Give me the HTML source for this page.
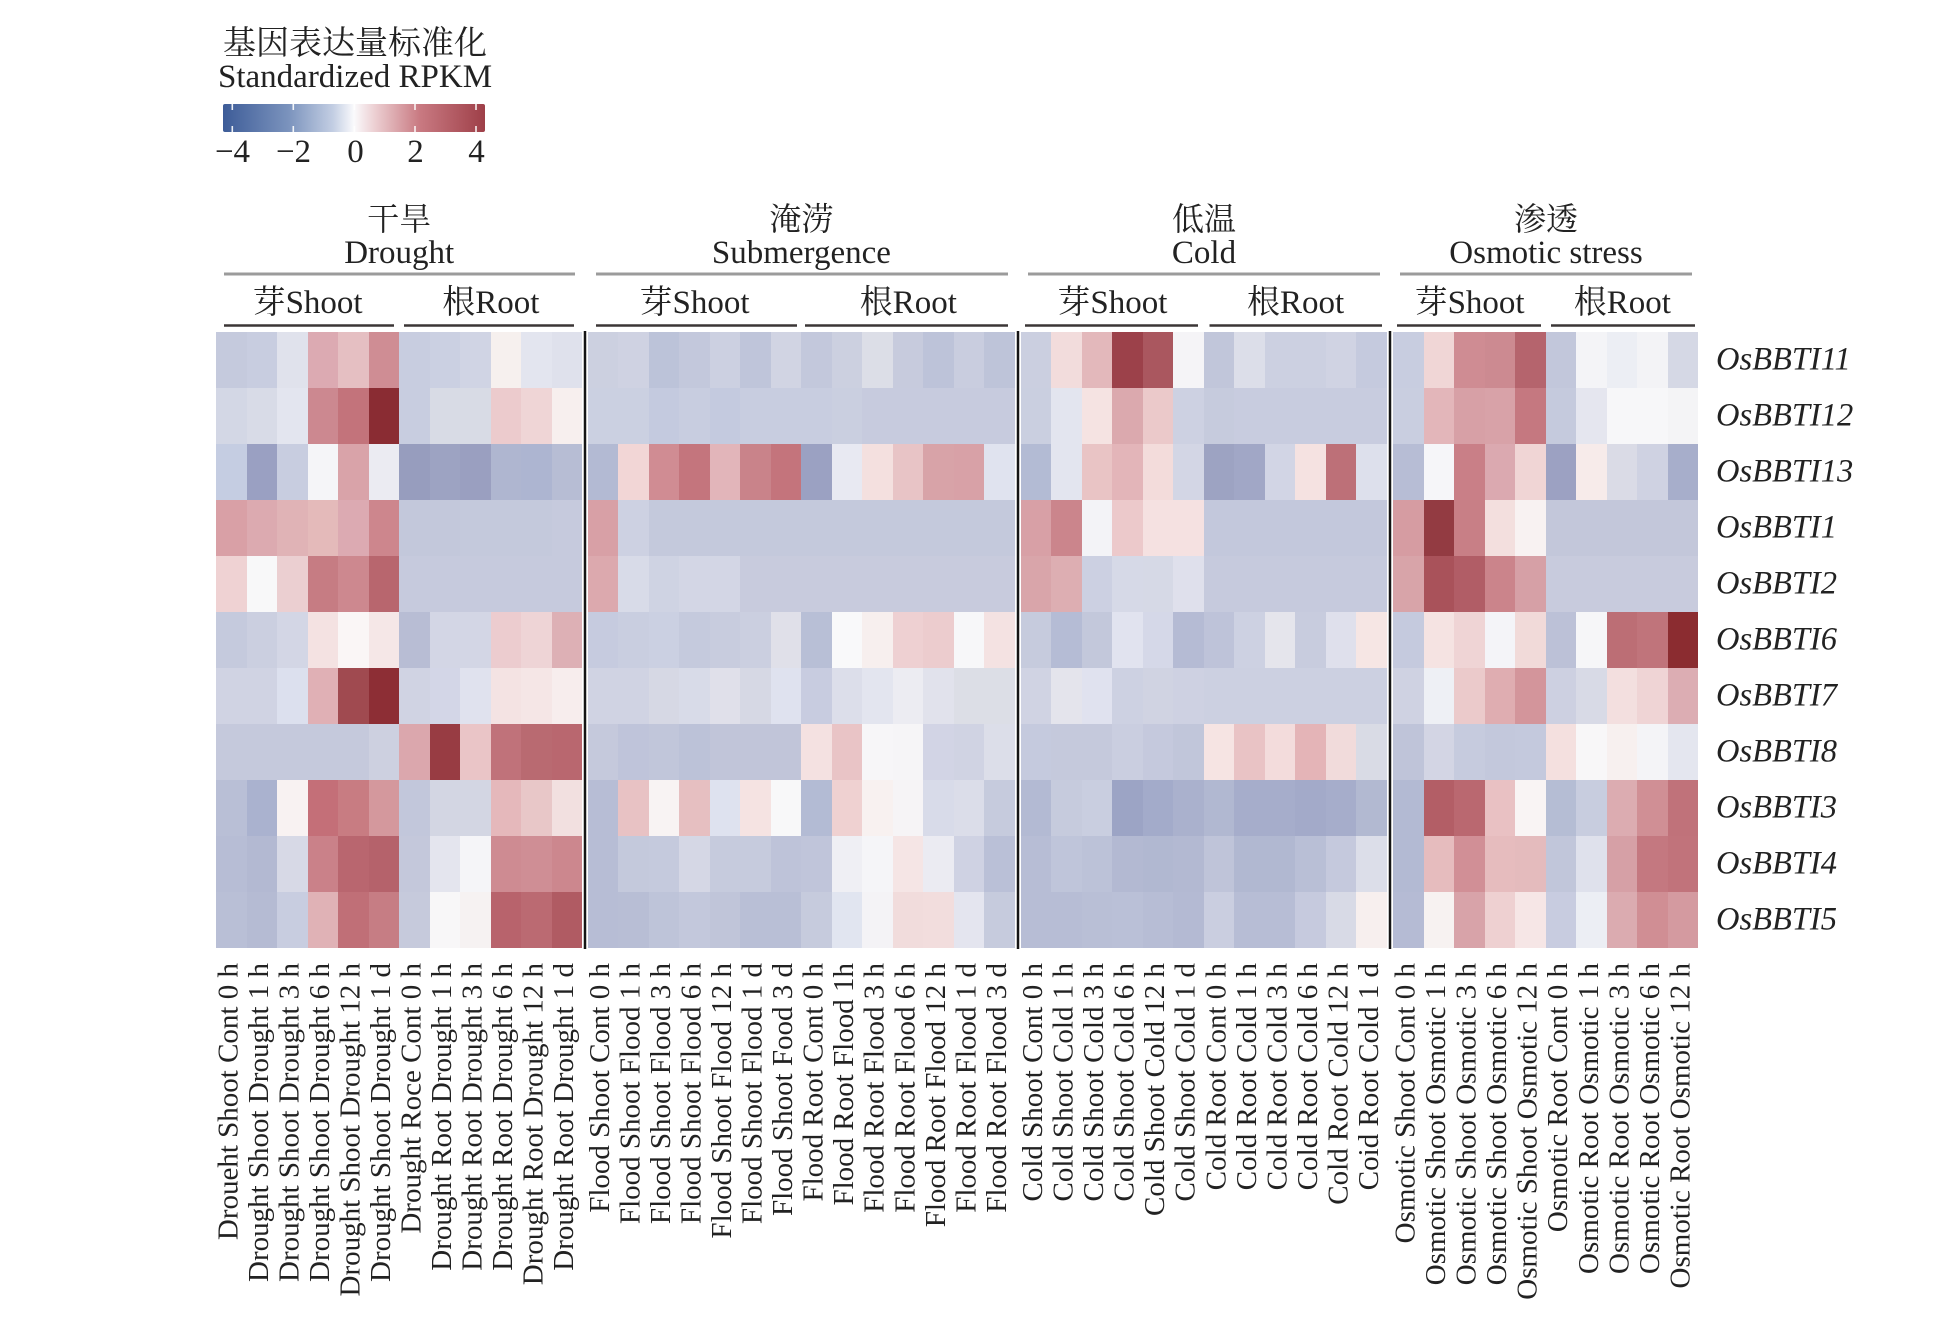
<!DOCTYPE html>
<html><head><meta charset="utf-8">
<style>
html,body{margin:0;padding:0;background:#fff;}
#wrap{position:relative;width:1946px;height:1321px;overflow:hidden;background:#fff;}
.g{position:absolute;top:331.7px;display:grid;grid-auto-rows:56px;}
.g i{display:block;}
#d{left:216px;grid-template-columns:repeat(12,30.53px);}
#f{left:587.7px;grid-template-columns:repeat(14,30.53px);}
#c{left:1020.8px;grid-template-columns:repeat(12,30.53px);}
#o{left:1393.3px;grid-template-columns:repeat(10,30.53px);}
svg{position:absolute;left:0;top:0;}
.t{font-family:"Liberation Serif","Noto Serif CJK SC",serif;fill:#222;}
.b{font-family:"Liberation Serif",serif;font-size:29px;fill:#222;}
</style></head><body><div id="wrap">

<div class="g" id="d">
<i style="background:#c5cadd"></i><i style="background:#c8cde0"></i><i style="background:#e0e2ec"></i><i style="background:#dcaab2"></i><i style="background:#e5bfc2"></i><i style="background:#cf8d94"></i><i style="background:#c8cde0"></i><i style="background:#cbd0e2"></i><i style="background:#d0d4e4"></i><i style="background:#f6f0ee"></i><i style="background:#e3e5ef"></i><i style="background:#dfe1ec"></i>
<i style="background:#d3d7e5"></i><i style="background:#d8dbe7"></i><i style="background:#e3e5ef"></i><i style="background:#cc8890"></i><i style="background:#c3737b"></i><i style="background:#8a2c33"></i><i style="background:#c8cde0"></i><i style="background:#d8dbe5"></i><i style="background:#d8dbe5"></i><i style="background:#eccbcd"></i><i style="background:#efd5d6"></i><i style="background:#f7efee"></i>
<i style="background:#c5cde2"></i><i style="background:#9aa0c2"></i><i style="background:#c8cde0"></i><i style="background:#f5f5f8"></i><i style="background:#d9a3a9"></i><i style="background:#ebebf2"></i><i style="background:#979dbe"></i><i style="background:#9da3c2"></i><i style="background:#9a9fc0"></i><i style="background:#afb6d0"></i><i style="background:#adb5d1"></i><i style="background:#b7bdd4"></i>
<i style="background:#d9a0a6"></i><i style="background:#dcaab0"></i><i style="background:#e0b3b6"></i><i style="background:#e4baba"></i><i style="background:#dcaab2"></i><i style="background:#cd868d"></i><i style="background:#c3c8db"></i><i style="background:#c3c8db"></i><i style="background:#c4c9dc"></i><i style="background:#c4c9dc"></i><i style="background:#c4c9dc"></i><i style="background:#c6cadd"></i>
<i style="background:#efd2d3"></i><i style="background:#f8f8f9"></i><i style="background:#ebcfd1"></i><i style="background:#c67c83"></i><i style="background:#cd888f"></i><i style="background:#b8666e"></i><i style="background:#c6cadd"></i><i style="background:#c6cadd"></i><i style="background:#c6cadd"></i><i style="background:#c6cadd"></i><i style="background:#c6cadd"></i><i style="background:#c6cadd"></i>
<i style="background:#c5cadd"></i><i style="background:#cbcfe0"></i><i style="background:#d3d6e5"></i><i style="background:#f4e2e2"></i><i style="background:#faf6f6"></i><i style="background:#f5e7e7"></i><i style="background:#b8bdd4"></i><i style="background:#d3d6e5"></i><i style="background:#d3d6e5"></i><i style="background:#eccccf"></i><i style="background:#eed4d6"></i><i style="background:#ddb0b5"></i>
<i style="background:#d0d3e3"></i><i style="background:#d0d3e3"></i><i style="background:#dce0ee"></i><i style="background:#e0b0b5"></i><i style="background:#a04a50"></i><i style="background:#8d2e35"></i><i style="background:#d0d3e3"></i><i style="background:#d3d6e7"></i><i style="background:#e0e2ee"></i><i style="background:#f4e3e3"></i><i style="background:#f5e6e6"></i><i style="background:#f7eded"></i>
<i style="background:#c5c9dc"></i><i style="background:#c5c9dc"></i><i style="background:#c5c9dc"></i><i style="background:#c5c9dc"></i><i style="background:#c5c9dc"></i><i style="background:#cdd0e0"></i><i style="background:#dba7ad"></i><i style="background:#983c43"></i><i style="background:#eac5c7"></i><i style="background:#c0727a"></i><i style="background:#b96a71"></i><i style="background:#b9676f"></i>
<i style="background:#b9bfd6"></i><i style="background:#aab2cf"></i><i style="background:#f8f2f2"></i><i style="background:#c46f78"></i><i style="background:#c87c82"></i><i style="background:#d4989d"></i><i style="background:#c2c7db"></i><i style="background:#d3d6e3"></i><i style="background:#d3d6e3"></i><i style="background:#e5b8bb"></i><i style="background:#e8c7c8"></i><i style="background:#f2e0e0"></i>
<i style="background:#b7bdd5"></i><i style="background:#b3b9d2"></i><i style="background:#d7d9e6"></i><i style="background:#ca8189"></i><i style="background:#b9666f"></i><i style="background:#b5626b"></i><i style="background:#c4c8db"></i><i style="background:#e4e5ee"></i><i style="background:#f5f5f8"></i><i style="background:#ce8b92"></i><i style="background:#cf8e95"></i><i style="background:#cc878e"></i>
<i style="background:#b9bfd6"></i><i style="background:#b5bbd3"></i><i style="background:#c8cde0"></i><i style="background:#e0b2b6"></i><i style="background:#c06f77"></i><i style="background:#c67d84"></i><i style="background:#c6cadc"></i><i style="background:#f8f7f8"></i><i style="background:#f6f2f2"></i><i style="background:#b8636c"></i><i style="background:#bb6a72"></i><i style="background:#b05b63"></i>
</div>

<div class="g" id="f">
<i style="background:#ccd0e0"></i><i style="background:#cfd2e2"></i><i style="background:#bcc3d9"></i><i style="background:#c3c8dc"></i><i style="background:#ccd0e1"></i><i style="background:#bfc5da"></i><i style="background:#d1d4e3"></i><i style="background:#c3c8dc"></i><i style="background:#ccd0e0"></i><i style="background:#dcdee7"></i><i style="background:#c7cbdd"></i><i style="background:#bdc3d9"></i><i style="background:#c9cddf"></i><i style="background:#bec4d9"></i>
<i style="background:#cbd0e1"></i><i style="background:#cbd0e1"></i><i style="background:#c4cadf"></i><i style="background:#c8cde0"></i><i style="background:#c4cadf"></i><i style="background:#c8cde0"></i><i style="background:#c8cde0"></i><i style="background:#c8cde0"></i><i style="background:#cacfe0"></i><i style="background:#c7cbde"></i><i style="background:#c7cbde"></i><i style="background:#c7cbde"></i><i style="background:#c7cbde"></i><i style="background:#c7cbde"></i>
<i style="background:#b3bad3"></i><i style="background:#f2d6d6"></i><i style="background:#d08c93"></i><i style="background:#c4757d"></i><i style="background:#e2b5ba"></i><i style="background:#c9838a"></i><i style="background:#c4747c"></i><i style="background:#9ba1c2"></i><i style="background:#e8e9f2"></i><i style="background:#f4e0df"></i><i style="background:#e8c4c6"></i><i style="background:#d8a3a8"></i><i style="background:#d8a1a7"></i><i style="background:#e0e3ef"></i>
<i style="background:#d8a0a6"></i><i style="background:#cdd1e2"></i><i style="background:#c4c9dc"></i><i style="background:#c4c9dc"></i><i style="background:#c4c9dc"></i><i style="background:#c4c9dc"></i><i style="background:#c4c9dc"></i><i style="background:#c4c9dc"></i><i style="background:#c4c9dc"></i><i style="background:#c4c9dc"></i><i style="background:#c4c9dc"></i><i style="background:#c4c9dc"></i><i style="background:#c4c9dc"></i><i style="background:#c4c9dc"></i>
<i style="background:#dca9ae"></i><i style="background:#d8dbe8"></i><i style="background:#cfd3e3"></i><i style="background:#d3d6e5"></i><i style="background:#d3d6e5"></i><i style="background:#c8cbdd"></i><i style="background:#c8cbdd"></i><i style="background:#c8cbdd"></i><i style="background:#c8cbdd"></i><i style="background:#c8cbdd"></i><i style="background:#c8cbdd"></i><i style="background:#c8cbdd"></i><i style="background:#c8cbdd"></i><i style="background:#c8cbdd"></i>
<i style="background:#c6cbdf"></i><i style="background:#c9cee0"></i><i style="background:#cbd0e2"></i><i style="background:#c5cadd"></i><i style="background:#c8ccde"></i><i style="background:#cbcfe0"></i><i style="background:#e0e0e9"></i><i style="background:#b8bfd6"></i><i style="background:#f9f9fa"></i><i style="background:#f7efee"></i><i style="background:#eed0d2"></i><i style="background:#ecccce"></i><i style="background:#f7f7f9"></i><i style="background:#f4e2e2"></i>
<i style="background:#d0d3e3"></i><i style="background:#d0d3e3"></i><i style="background:#d6d8e4"></i><i style="background:#d8dbe8"></i><i style="background:#e0e0ea"></i><i style="background:#d6d8e4"></i><i style="background:#dfe2ef"></i><i style="background:#c8cce0"></i><i style="background:#dcdeea"></i><i style="background:#e3e5ef"></i><i style="background:#ececf2"></i><i style="background:#e1e2ec"></i><i style="background:#dcdee6"></i><i style="background:#dcdee6"></i>
<i style="background:#c5c9dc"></i><i style="background:#bfc4da"></i><i style="background:#c1c6da"></i><i style="background:#bcc2d8"></i><i style="background:#c1c5d9"></i><i style="background:#c1c5d9"></i><i style="background:#c1c5d9"></i><i style="background:#f4e1e1"></i><i style="background:#e9c4c6"></i><i style="background:#f7f6f8"></i><i style="background:#f6f5f7"></i><i style="background:#d2d4e5"></i><i style="background:#d0d3e3"></i><i style="background:#dcdee9"></i>
<i style="background:#b7bdd5"></i><i style="background:#e8c2c4"></i><i style="background:#f8f3f3"></i><i style="background:#e6bfc1"></i><i style="background:#dee2ef"></i><i style="background:#f5e3e2"></i><i style="background:#f8f8f9"></i><i style="background:#b3bbd4"></i><i style="background:#efd1d1"></i><i style="background:#f8f1f0"></i><i style="background:#f6f4f6"></i><i style="background:#d8dbe9"></i><i style="background:#dbdde9"></i><i style="background:#c6cbdd"></i>
<i style="background:#b7bdd5"></i><i style="background:#c4c9dc"></i><i style="background:#c5cadd"></i><i style="background:#d5d7e5"></i><i style="background:#c6cbdd"></i><i style="background:#c6cbdd"></i><i style="background:#bec3d9"></i><i style="background:#c0c5da"></i><i style="background:#efeff4"></i><i style="background:#f5f5f8"></i><i style="background:#f5e5e5"></i><i style="background:#ebebf2"></i><i style="background:#cfd2e3"></i><i style="background:#bac0d7"></i>
<i style="background:#b7bdd5"></i><i style="background:#b8bed5"></i><i style="background:#bec4d9"></i><i style="background:#c3c8dc"></i><i style="background:#c0c5d9"></i><i style="background:#b9bfd6"></i><i style="background:#b9bfd6"></i><i style="background:#c6cbdd"></i><i style="background:#e1e5f0"></i><i style="background:#f4f3f6"></i><i style="background:#f1dcdc"></i><i style="background:#f2dddd"></i><i style="background:#e4e5ef"></i><i style="background:#c6cbdd"></i>
</div>

<div class="g" id="c">
<i style="background:#cbcfe0"></i><i style="background:#f2dcdc"></i><i style="background:#e3b8bb"></i><i style="background:#9c414a"></i><i style="background:#aa575f"></i><i style="background:#f5f4f7"></i><i style="background:#c1c6da"></i><i style="background:#dcdee9"></i><i style="background:#ccd0e1"></i><i style="background:#ccd0e1"></i><i style="background:#d0d3e3"></i><i style="background:#c5cade"></i>
<i style="background:#cacfe0"></i><i style="background:#e3e5ef"></i><i style="background:#f5e3e2"></i><i style="background:#dba9ae"></i><i style="background:#ebc9ca"></i><i style="background:#cdd1e2"></i><i style="background:#c6cbdd"></i><i style="background:#c8ccdf"></i><i style="background:#c8ccdf"></i><i style="background:#c8ccdf"></i><i style="background:#c8ccdf"></i><i style="background:#c8ccdf"></i>
<i style="background:#b3bbd4"></i><i style="background:#e3e5ef"></i><i style="background:#e9c4c5"></i><i style="background:#e3b5b9"></i><i style="background:#f3dcdb"></i><i style="background:#d3d6e5"></i><i style="background:#9da3c2"></i><i style="background:#a1a7c6"></i><i style="background:#d2d5e5"></i><i style="background:#f5e2e1"></i><i style="background:#bd7078"></i><i style="background:#dde0ec"></i>
<i style="background:#d8a0a6"></i><i style="background:#cb858c"></i><i style="background:#f3f3f7"></i><i style="background:#ecc9cb"></i><i style="background:#f5e1e1"></i><i style="background:#f5e1e1"></i><i style="background:#c3c8dc"></i><i style="background:#c3c8dc"></i><i style="background:#c3c8dc"></i><i style="background:#c3c8dc"></i><i style="background:#c3c8dc"></i><i style="background:#c3c8dc"></i>
<i style="background:#d9a5aa"></i><i style="background:#ddaeb2"></i><i style="background:#ccd0e2"></i><i style="background:#d6d9e7"></i><i style="background:#d6d9e6"></i><i style="background:#dfe0ec"></i><i style="background:#c6cadd"></i><i style="background:#c6cadd"></i><i style="background:#c6cadd"></i><i style="background:#c6cadd"></i><i style="background:#c6cadd"></i><i style="background:#c6cadd"></i>
<i style="background:#c6cbdd"></i><i style="background:#b5bcd5"></i><i style="background:#c3c8db"></i><i style="background:#e1e3ef"></i><i style="background:#d5d8e8"></i><i style="background:#b5bbd4"></i><i style="background:#bec3d9"></i><i style="background:#cdd1e2"></i><i style="background:#e5e5ec"></i><i style="background:#c8ccde"></i><i style="background:#dfe0ec"></i><i style="background:#f6e6e4"></i>
<i style="background:#d0d3e3"></i><i style="background:#e4e4ec"></i><i style="background:#e0e2ef"></i><i style="background:#cdd1e2"></i><i style="background:#d0d3e2"></i><i style="background:#ced1e2"></i><i style="background:#ccd0e1"></i><i style="background:#ccd0e1"></i><i style="background:#ccd0e1"></i><i style="background:#ccd0e1"></i><i style="background:#ccd0e1"></i><i style="background:#ccd0e1"></i>
<i style="background:#c5cade"></i><i style="background:#c5c9dc"></i><i style="background:#c5c9dc"></i><i style="background:#cacee0"></i><i style="background:#c5c9dd"></i><i style="background:#c1c6da"></i><i style="background:#f6e4e3"></i><i style="background:#e9c3c5"></i><i style="background:#f3dcdc"></i><i style="background:#e4b4b7"></i><i style="background:#f1dbdb"></i><i style="background:#d9dbe5"></i>
<i style="background:#b3bad3"></i><i style="background:#c6cbdd"></i><i style="background:#c9cee0"></i><i style="background:#9ca4c5"></i><i style="background:#a3abca"></i><i style="background:#aab1cd"></i><i style="background:#b1b8d1"></i><i style="background:#a6adcb"></i><i style="background:#a6adcb"></i><i style="background:#a3aac9"></i><i style="background:#a6adcb"></i><i style="background:#b2b9d1"></i>
<i style="background:#b7bdd5"></i><i style="background:#bfc5da"></i><i style="background:#bcc2d8"></i><i style="background:#b3b9d2"></i><i style="background:#b1b8d1"></i><i style="background:#b3b9d2"></i><i style="background:#bfc4d9"></i><i style="background:#b1b8d1"></i><i style="background:#b1b8d1"></i><i style="background:#b9bfd6"></i><i style="background:#c5c9dd"></i><i style="background:#dcdee9"></i>
<i style="background:#b7bdd5"></i><i style="background:#b7bdd5"></i><i style="background:#b9bfd6"></i><i style="background:#bac0d7"></i><i style="background:#b7bdd5"></i><i style="background:#b4bad3"></i><i style="background:#cacee0"></i><i style="background:#b7bdd5"></i><i style="background:#b7bdd5"></i><i style="background:#c6cade"></i><i style="background:#d8dae6"></i><i style="background:#f7efee"></i>
</div>

<div class="g" id="o">
<i style="background:#c8cde0"></i><i style="background:#f0d6d6"></i><i style="background:#cf8c93"></i><i style="background:#cc8a91"></i><i style="background:#b5646d"></i><i style="background:#c2c7db"></i><i style="background:#f4f4f7"></i><i style="background:#eceef4"></i><i style="background:#f3f3f6"></i><i style="background:#d5d8e5"></i>
<i style="background:#c9cee0"></i><i style="background:#e3b6ba"></i><i style="background:#d7a0a6"></i><i style="background:#d8a2a8"></i><i style="background:#c57880"></i><i style="background:#c5cadd"></i><i style="background:#e5e6ef"></i><i style="background:#f7f7f9"></i><i style="background:#f7f7f9"></i><i style="background:#f4f4f6"></i>
<i style="background:#b7bdd5"></i><i style="background:#f6f6f9"></i><i style="background:#c97f87"></i><i style="background:#dba9b0"></i><i style="background:#f0d5d5"></i><i style="background:#9ca1c2"></i><i style="background:#f7ebea"></i><i style="background:#dadbe6"></i><i style="background:#cfd2e2"></i><i style="background:#a7aecb"></i>
<i style="background:#d69ca2"></i><i style="background:#933b42"></i><i style="background:#c87f86"></i><i style="background:#f3dfde"></i><i style="background:#f8f2f2"></i><i style="background:#c3c7da"></i><i style="background:#c3c7da"></i><i style="background:#c3c7da"></i><i style="background:#c3c7da"></i><i style="background:#c3c7da"></i>
<i style="background:#d8a4a9"></i><i style="background:#a9525a"></i><i style="background:#b15d66"></i><i style="background:#cb848b"></i><i style="background:#d6a0a6"></i><i style="background:#c8cbdd"></i><i style="background:#c8cbdd"></i><i style="background:#c8cbdd"></i><i style="background:#c8cbdd"></i><i style="background:#c8cbdd"></i>
<i style="background:#c5cade"></i><i style="background:#f5e3e2"></i><i style="background:#efd4d5"></i><i style="background:#f4f4f8"></i><i style="background:#f1dad9"></i><i style="background:#bcc1d7"></i><i style="background:#f6f6f8"></i><i style="background:#bc6e75"></i><i style="background:#c0747b"></i><i style="background:#8b2c30"></i>
<i style="background:#cfd2e2"></i><i style="background:#eef0f5"></i><i style="background:#ebcacb"></i><i style="background:#dfadb1"></i><i style="background:#d3959b"></i><i style="background:#cdd0e1"></i><i style="background:#d8dae6"></i><i style="background:#f3dfdf"></i><i style="background:#efd4d5"></i><i style="background:#dcadb3"></i>
<i style="background:#bfc4d9"></i><i style="background:#d3d5e4"></i><i style="background:#c6cbde"></i><i style="background:#c3c8dc"></i><i style="background:#c4c9dd"></i><i style="background:#f4e0df"></i><i style="background:#f8f7f8"></i><i style="background:#f7f0ef"></i><i style="background:#f4f4f7"></i><i style="background:#e4e6ef"></i>
<i style="background:#b3bad3"></i><i style="background:#b35e66"></i><i style="background:#ba6870"></i><i style="background:#e9c1c3"></i><i style="background:#f9f4f4"></i><i style="background:#b5bdd4"></i><i style="background:#c8cddf"></i><i style="background:#dcacb1"></i><i style="background:#d08f95"></i><i style="background:#c0727a"></i>
<i style="background:#b3bad3"></i><i style="background:#e6bcbe"></i><i style="background:#d18f96"></i><i style="background:#e6bcbe"></i><i style="background:#e4bbbd"></i><i style="background:#c1c6da"></i><i style="background:#dfe1ec"></i><i style="background:#d6a0a6"></i><i style="background:#c47880"></i><i style="background:#c1737b"></i>
<i style="background:#b5bbd4"></i><i style="background:#f7f2f1"></i><i style="background:#d8a3a9"></i><i style="background:#eed0d1"></i><i style="background:#f6e6e6"></i><i style="background:#c8cce0"></i><i style="background:#eceef4"></i><i style="background:#dbabb0"></i><i style="background:#d08e94"></i><i style="background:#d49aa0"></i>
</div>

<svg width="1946" height="1321" viewBox="0 0 1946 1321" xmlns="http://www.w3.org/2000/svg">
<defs>
<linearGradient id="cb" x1="0" y1="0" x2="1" y2="0">
<stop offset="0" stop-color="#3d5c98"/>
<stop offset="0.25" stop-color="#7b93bd"/>
<stop offset="0.42" stop-color="#c3cee3"/>
<stop offset="0.5" stop-color="#fafafc"/>
<stop offset="0.58" stop-color="#eccfd2"/>
<stop offset="0.75" stop-color="#c97a82"/>
<stop offset="1" stop-color="#9e3f48"/>
</linearGradient>
</defs>

<!-- legend -->
<text class="t" x="223" y="54" font-size="33" style="font-family:'Noto Serif CJK SC','Liberation Serif',serif">基因表达量标准化</text>
<text class="t" x="218" y="87" font-size="33">Standardized RPKM</text>
<rect x="223" y="104" width="262" height="28" rx="2" fill="url(#cb)"/>
<g stroke="#ffffff" stroke-width="1.6" opacity="0.9">
<line x1="232.3" y1="104" x2="232.3" y2="110"/><line x1="232.3" y1="126" x2="232.3" y2="132"/>
<line x1="293.3" y1="104" x2="293.3" y2="110"/><line x1="293.3" y1="126" x2="293.3" y2="132"/>
<line x1="354.3" y1="104" x2="354.3" y2="110"/><line x1="354.3" y1="126" x2="354.3" y2="132"/>
<line x1="415" y1="104" x2="415" y2="110"/><line x1="415" y1="126" x2="415" y2="132"/>
<line x1="476" y1="104" x2="476" y2="110"/><line x1="476" y1="126" x2="476" y2="132"/>
</g>
<g class="t" font-size="33" text-anchor="middle">
<text x="232.5" y="162">−4</text>
<text x="293.5" y="162">−2</text>
<text x="355.5" y="162">0</text>
<text x="415.5" y="162">2</text>
<text x="476.5" y="162">4</text>
</g>

<!-- group titles -->
<g class="t" text-anchor="middle">
<text x="399.2" y="230" font-size="32" style="font-family:'Noto Serif CJK SC',serif">干旱</text>
<text x="399.2" y="263" font-size="33">Drought</text>
<text x="801.4" y="230" font-size="32" style="font-family:'Noto Serif CJK SC',serif">淹涝</text>
<text x="801.4" y="263" font-size="33">Submergence</text>
<text x="1204" y="230" font-size="32" style="font-family:'Noto Serif CJK SC',serif">低温</text>
<text x="1204" y="263" font-size="33">Cold</text>
<text x="1546" y="230" font-size="32" style="font-family:'Noto Serif CJK SC',serif">渗透</text>
<text x="1546" y="263" font-size="33">Osmotic stress</text>
</g>
<g stroke="#9b9b9b" stroke-width="3">
<line x1="224" y1="274" x2="575" y2="274"/>
<line x1="596" y1="274" x2="1008" y2="274"/>
<line x1="1028" y1="274" x2="1380" y2="274"/>
<line x1="1400" y1="274" x2="1692" y2="274"/>
</g>
<g class="t" text-anchor="middle" font-size="33">
<text x="307.6" y="313">芽Shoot</text><text x="490.8" y="313">根Root</text>
<text x="694.5" y="313">芽Shoot</text><text x="908.3" y="313">根Root</text>
<text x="1112.4" y="313">芽Shoot</text><text x="1295.6" y="313">根Root</text>
<text x="1469.6" y="313">芽Shoot</text><text x="1622.3" y="313">根Root</text>
</g>
<g stroke="#3b3636" stroke-width="2.5">
<line x1="224" y1="325.5" x2="394" y2="325.5"/><line x1="404" y1="325.5" x2="574" y2="325.5"/>
<line x1="596" y1="325.5" x2="797" y2="325.5"/><line x1="805" y1="325.5" x2="1008" y2="325.5"/>
<line x1="1025" y1="325.5" x2="1198" y2="325.5"/><line x1="1209.5" y1="325.5" x2="1382" y2="325.5"/>
<line x1="1397" y1="325.5" x2="1541" y2="325.5"/><line x1="1551" y1="325.5" x2="1695" y2="325.5"/>
</g>

<!-- separators -->
<g stroke="#151515" stroke-width="2.5">
<line x1="585" y1="331" x2="585" y2="949"/>
<line x1="1018" y1="331" x2="1018" y2="949"/>
<line x1="1390" y1="331" x2="1390" y2="949"/>
</g>

<!-- gene labels -->
<g class="t" font-size="32.5" font-style="italic">
<text x="1716" y="369.5">OsBBTI11</text>
<text x="1716" y="425.5">OsBBTI12</text>
<text x="1716" y="481.5">OsBBTI13</text>
<text x="1716" y="537.5">OsBBTI1</text>
<text x="1716" y="593.5">OsBBTI2</text>
<text x="1716" y="649.5">OsBBTI6</text>
<text x="1716" y="705.5">OsBBTI7</text>
<text x="1716" y="761.5">OsBBTI8</text>
<text x="1716" y="817.5">OsBBTI3</text>
<text x="1716" y="873.5">OsBBTI4</text>
<text x="1716" y="929.5">OsBBTI5</text>
</g>

<!-- column labels -->
<g class="b" text-anchor="end">
<text transform="translate(237.3,963) rotate(-90)">Droueht Shoot Cont 0 h</text>
<text transform="translate(267.8,963) rotate(-90)">Drought Shoot Drought 1 h</text>
<text transform="translate(298.3,963) rotate(-90)">Drought Shoot Drought 3 h</text>
<text transform="translate(328.9,963) rotate(-90)">Drought Shoot Drought 6 h</text>
<text transform="translate(359.4,963) rotate(-90)">Drought Shoot Drought 12 h</text>
<text transform="translate(389.9,963) rotate(-90)">Drought Shoot Drought 1 d</text>
<text transform="translate(420.5,963) rotate(-90)">Drought Roce Cont 0 h</text>
<text transform="translate(451.0,963) rotate(-90)">Drought Root Drought 1 h</text>
<text transform="translate(481.5,963) rotate(-90)">Drought Root Drought 3 h</text>
<text transform="translate(512.0,963) rotate(-90)">Drought Root Drought 6 h</text>
<text transform="translate(542.6,963) rotate(-90)">Drought Root Drought 12 h</text>
<text transform="translate(573.1,963) rotate(-90)">Drought Root Drought 1 d</text>

<text transform="translate(609.0,963) rotate(-90)">Flood Shoot Cont 0 h</text>
<text transform="translate(639.5,963) rotate(-90)">Flood Shoot Flood 1 h</text>
<text transform="translate(670.0,963) rotate(-90)">Flood Shoot Flood 3 h</text>
<text transform="translate(700.6,963) rotate(-90)">Flood Shoot Flood 6 h</text>
<text transform="translate(731.1,963) rotate(-90)">Flood Shoot Flood 12 h</text>
<text transform="translate(761.6,963) rotate(-90)">Flood Shoot Flood 1 d</text>
<text transform="translate(792.2,963) rotate(-90)">Flood Shoot Food 3 d</text>
<text transform="translate(822.7,963) rotate(-90)">Flood Root Cont 0 h</text>
<text transform="translate(853.2,963) rotate(-90)">Flood Root Flood 1h</text>
<text transform="translate(883.7,963) rotate(-90)">Flood Root Flood 3 h</text>
<text transform="translate(914.3,963) rotate(-90)">Flood Root Flood 6 h</text>
<text transform="translate(944.8,963) rotate(-90)">Flood Root Flood 12 h</text>
<text transform="translate(975.3,963) rotate(-90)">Flood Root Flood 1 d</text>
<text transform="translate(1005.9,963) rotate(-90)">Flood Root Flood 3 d</text>

<text transform="translate(1042.1,963) rotate(-90)">Cold Shoot Cont 0 h</text>
<text transform="translate(1072.6,963) rotate(-90)">Cold Shoot Cold 1 h</text>
<text transform="translate(1103.1,963) rotate(-90)">Cold Shoot Cold 3 h</text>
<text transform="translate(1133.7,963) rotate(-90)">Cold Shoot Cold 6 h</text>
<text transform="translate(1164.2,963) rotate(-90)">Cold Shoot Cold 12 h</text>
<text transform="translate(1194.7,963) rotate(-90)">Cold Shoot Cold 1 d</text>
<text transform="translate(1225.3,963) rotate(-90)">Cold Root Cont 0 h</text>
<text transform="translate(1255.8,963) rotate(-90)">Cold Root Cold 1 h</text>
<text transform="translate(1286.3,963) rotate(-90)">Cold Root Cold 3 h</text>
<text transform="translate(1316.8,963) rotate(-90)">Cold Root Cold 6 h</text>
<text transform="translate(1347.4,963) rotate(-90)">Cold Root Cold 12 h</text>
<text transform="translate(1377.9,963) rotate(-90)">Coid Root Cold 1 d</text>

<text transform="translate(1414.6,963) rotate(-90)">Osmotic Shoot Cont 0 h</text>
<text transform="translate(1445.1,963) rotate(-90)">Osmotic Shoot Osmotic 1 h</text>
<text transform="translate(1475.6,963) rotate(-90)">Osmotic Shoot Osmotic 3 h</text>
<text transform="translate(1506.2,963) rotate(-90)">Osmotic Shoot Osmotic 6 h</text>
<text transform="translate(1536.7,963) rotate(-90)">Osmotic Shoot Osmotic 12 h</text>
<text transform="translate(1567.2,963) rotate(-90)">Osmotic Root Cont 0 h</text>
<text transform="translate(1597.8,963) rotate(-90)">Osmotic Root Osmotic 1 h</text>
<text transform="translate(1628.3,963) rotate(-90)">Osmotic Root Osmotic 3 h</text>
<text transform="translate(1658.8,963) rotate(-90)">Osmotic Root Osmotic 6 h</text>
<text transform="translate(1689.3,963) rotate(-90)">Osmotic Root Osmotic 12 h</text>
</g>
</svg>
</div></body></html>
